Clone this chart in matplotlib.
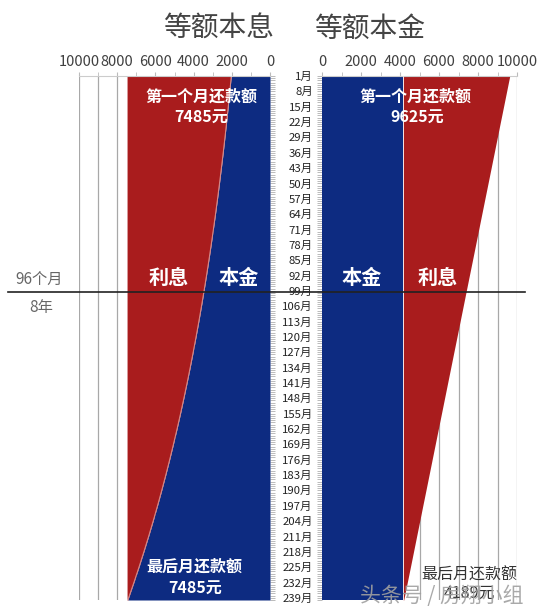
import matplotlib
matplotlib.use("Agg")
import matplotlib.pyplot as plt
from matplotlib.transforms import blended_transform_factory

plt.rcParams["font.family"] = ["Noto Sans CJK SC", "DejaVu Sans"]

# months sampled at the labelled rows (plus the last month)
months = [1, 8, 15, 22, 29, 36, 43, 50, 57, 64, 71, 78, 85, 92, 99, 106, 113,
          120, 127, 134, 141, 148, 155, 162, 169, 176, 183, 190, 197, 204, 211,
          218, 225, 232, 239, 240]

# 等额本息: monthly principal part, constant total payment
principal_equal_pay = [2027, 2106, 2188, 2272, 2361, 2452, 2548, 2647, 2749,
                       2856, 2967, 3082, 3202, 3326, 3456, 3590, 3729, 3874,
                       4025, 4181, 4343, 4512, 4687, 4869, 5059, 5255, 5459,
                       5671, 5891, 6120, 6358, 6605, 6861, 7128, 7405, 7445]
payment_equal_pay = 7485

# 等额本金: constant principal part, decreasing total payment
principal_equal_prin = 4167
total_equal_prin = [9625, 9466, 9307, 9147, 8988, 8829, 8670, 8511, 8351, 8192,
                    8033, 7874, 7715, 7555, 7396, 7237, 7078, 6919, 6759, 6600,
                    6441, 6282, 6123, 5963, 5804, 5645, 5486, 5327, 5167, 5008,
                    4849, 4690, 4531, 4371, 4212, 4189]

month_ticks = list(range(1, 241))
month_labels = [f"{m}月" if (m - 1) % 7 == 0 else "" for m in month_ticks]

RED = "#a91c1d"
BLUE = "#0d2b81"
GRID = "#a8a8a8"

fig = plt.figure(figsize=(5.58, 6.14), dpi=100)
ax_l = fig.add_axes([0.1416, 0.0228, 0.3423, 0.8534])
ax_r = fig.add_axes([0.5771, 0.0228, 0.3495, 0.8534])

for ax in (ax_l, ax_r):
    ax.set_ylim(240, 1)
    ax.xaxis.tick_top()
    ax.set_xticks(range(0, 10001, 2000))
    ax.set_xticks(range(0, 10001, 1000), minor=True)
    ax.tick_params(axis="x", which="both", direction="out", length=3,
                   color="#bbbbbb", labelsize=10.5, labelcolor="#404040", pad=2)
    ax.grid(axis="x", which="both", color=GRID, lw=0.9, zorder=0)
    ax.set_axisbelow(True)
    for side in ("left", "right", "bottom"):
        ax.spines[side].set_visible(False)
    ax.spines["top"].set_color("#cccccc")
    ax.set_yticks(month_ticks)
    ax.tick_params(axis="y", which="both", length=3.6, width=0.6,
                   color="#b0b0b0")

# left: 等额本息, reversed axis
ax_l.set_xlim(10000, 0)
ax_l.yaxis.tick_right()
ax_l.set_yticklabels([])
ax_l.fill_betweenx(months, 0, principal_equal_pay, color=BLUE, lw=0, zorder=2)
ax_l.fill_betweenx(months, principal_equal_pay, payment_equal_pay, color=RED,
                   lw=0, zorder=2)
ax_l.plot(principal_equal_pay, months, color="white", lw=0.7, alpha=0.5, zorder=3)

# right: 等额本金
ax_r.set_xlim(0, 10000)
ax_r.set_yticklabels(month_labels, fontsize=8.2, color="#222222")
ax_r.tick_params(axis="y", pad=3)
ax_r.fill_betweenx(months, 0, principal_equal_prin, color=BLUE, lw=0, zorder=2)
ax_r.fill_betweenx(months, principal_equal_prin, total_equal_prin, color=RED,
                   lw=0, zorder=2)
ax_r.axvline(principal_equal_prin, color="white", lw=0.7, alpha=0.4, zorder=3)

# texts inside the bars
wb = dict(color="white", fontweight="bold", ha="center", va="center", zorder=5)
ax_l.text(3610, 10.6, "第一个月还款额", fontsize=11.5, **wb)
ax_l.text(3610, 20.2, f"{payment_equal_pay}元", fontsize=11.5, **wb)
ax_l.text(5290, 92.7, "利息", fontsize=14.5, **wb)
ax_l.text(1620, 92.7, "本金", fontsize=14.5, **wb)
ax_l.text(3980, 224.9, "最后月还款额", fontsize=11.5, **wb)
ax_l.text(3930, 235.0, f"{payment_equal_pay}元", fontsize=11.5, **wb)

ax_r.text(4770, 10.6, "第一个月还款额", fontsize=11.5, **wb)
ax_r.text(4870, 20.2, f"{total_equal_prin[0]}元", fontsize=11.5, **wb)
ax_r.text(2050, 92.7, "本金", fontsize=14.5, **wb)
ax_r.text(5950, 92.7, "利息", fontsize=14.5, **wb)
ax_r.text(7540, 228.6, "最后月还款额", fontsize=11.5, color="#333333",
          ha="center", va="center", zorder=5)
ax_r.text(7540, 236.8, f"{total_equal_prin[-1]}元", fontsize=11.5,
          color="#333333", ha="center", va="center", zorder=5)

# 96 months marker line across the figure
trans = blended_transform_factory(fig.transFigure, ax_l.transData)
fig.add_artist(plt.Line2D([0.014, 0.941], [99.3, 99.3], transform=trans,
                          color="#222222", lw=1.2, zorder=6))
fig.text(0.070, 0.5456, "96个月", fontsize=11, color="#666666",
         ha="center", va="center")
fig.text(0.073, 0.4984, "8年", fontsize=11, color="#666666",
         ha="center", va="center")

# titles
fig.text(0.392, 0.954, "等额本息", fontsize=20, color="#444444",
         ha="center", va="center")
fig.text(0.663, 0.954, "等额本金", fontsize=20, color="#444444",
         ha="center", va="center")

# watermark
fig.text(0.645, 0.030, "头条号 / 房翔小组", fontsize=15, color="#a0a0a0",
         alpha=0.9, ha="left", va="center", zorder=10)

fig.savefig("out.png", dpi=100)
